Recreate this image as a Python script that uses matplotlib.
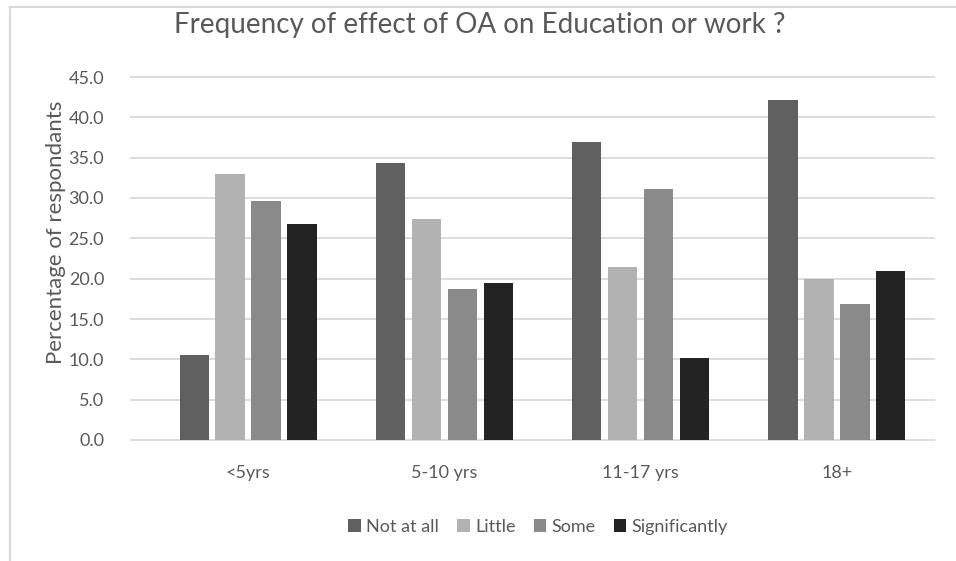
import matplotlib
matplotlib.use("Agg")
import matplotlib.pyplot as plt
from matplotlib.lines import Line2D
import numpy as np

# data
categories = ["<5yrs", "5-10 yrs", "11-17 yrs", "18+"]
series_names = ["Not at all", "Little", "Some", "Significantly"]
not_at_all = [10.5, 34.4, 37.0, 42.1]
little = [33.0, 27.4, 21.5, 20.0]
some = [29.6, 18.7, 31.1, 16.9]
significantly = [26.8, 19.5, 10.2, 20.9]
yticks = [0, 5, 10, 15, 20, 25, 30, 35, 40, 45]

colors = ["#606060", "#b2b2b2", "#8a8a8a", "#232323"]
text_color = "#595959"
grid_color = "#d9d9d9"

plt.rcParams['font.family'] = ['Lato', 'DejaVu Sans']

fig = plt.figure(figsize=(9.56, 5.61), dpi=100)
ax = fig.add_axes([150 / 956, 1 - 440 / 561, (935 - 150) / 956, (440 - 77) / 561])

x = np.arange(len(categories))
step = 0.183
width = 0.15
all_series = [not_at_all, little, some, significantly]
for i, (vals, name) in enumerate(zip(all_series, series_names)):
    ax.bar(x + (i - 1.5) * step, vals, width, color=colors[i], label=name, zorder=3)

ax.set_xlim(-0.5, len(categories) - 0.5)
ax.set_ylim(0, 45)
ax.set_yticks(yticks)
ax.set_yticklabels([f"{v:.1f}" for v in yticks])
ax.set_xticks(x)
ax.set_xticklabels(categories)
for s in ax.spines.values():
    s.set_visible(False)

# gridlines reach a little left of the plot area, as in the reference
x_left = -0.5 - 20 / 196
ax.hlines(yticks, x_left, len(categories) - 0.5, colors=grid_color,
          linewidth=1.3, zorder=0, clip_on=False)

ax.tick_params(axis='both', length=0, colors=text_color, labelsize=13)
ax.tick_params(axis='y', pad=33)
ax.tick_params(axis='x', pad=18)

fig.text(56 / 956, 1 - 232 / 561, "Percentage of respondants", rotation=90,
         ha='center', va='center', fontsize=16, color=text_color)

fig.text(480 / 956, 1 - 25 / 561, "Frequency of effect of OA on Education or work ?",
         ha='center', va='center', fontsize=20, color=text_color)

leg = fig.legend(loc='center', bbox_to_anchor=(538 / 956, 1 - 527 / 561), ncol=4,
                 frameon=False, fontsize=13, handlelength=0.7, handleheight=0.7,
                 handletextpad=0.3, columnspacing=1.0)
for t in leg.get_texts():
    t.set_color(text_color)

# chart border (top and left edges visible)
fig.add_artist(Line2D([10 / 956, 1], [1 - 7 / 561, 1 - 7 / 561],
                      transform=fig.transFigure, color=grid_color, linewidth=1.5))
fig.add_artist(Line2D([10 / 956, 10 / 956], [0, 1 - 7 / 561],
                      transform=fig.transFigure, color=grid_color, linewidth=1.5))

fig.savefig("out.png", dpi=100)
